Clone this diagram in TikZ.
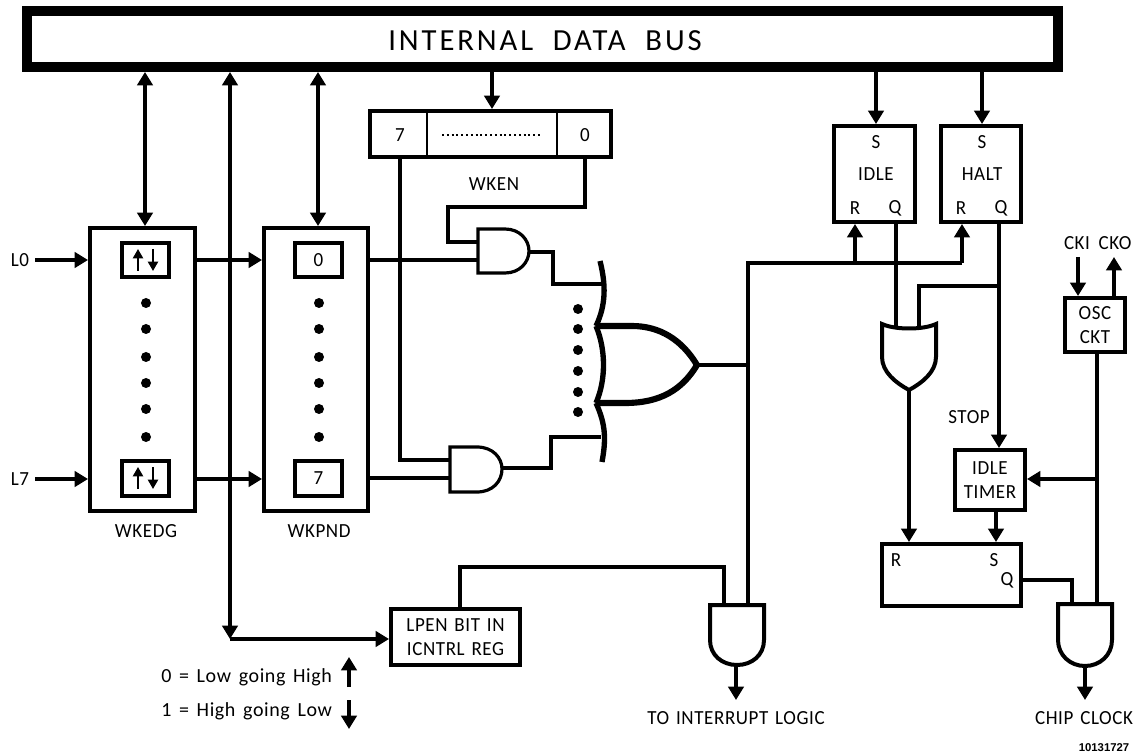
\documentclass[tikz,border=0pt]{standalone}
\usepackage{fontspec}
\setmainfont{Carlito}[LetterSpace=3,WordSpace=1.4,FakeStretch=0.95]
\newfontfamily\numfont{Liberation Sans}
\newfontfamily\busfont{Carlito}[LetterSpace=9.5,WordSpace=2]
\newfontfamily\legfont{Carlito}[LetterSpace=3,WordSpace=1.5]
\usetikzlibrary{arrows.meta}
\tikzset{
  x=0.75pt,y=-0.75pt,
  wire/.style={line width=2.3pt,line join=miter},
  arr/.style={line width=2.4pt,line join=miter,-{Triangle[length=10pt,width=11.5pt]}},
  arrs/.style={line width=2.4pt,{Triangle[length=10pt,width=11.5pt]}-{Triangle[length=10pt,width=11.5pt]}},
  mini/.style={line width=1.6pt,-{Triangle[length=7pt,width=7.5pt]}},
  boxthick/.style={draw,line width=3pt,inner sep=0pt,align=center,font=\lbl},
  gatethin/.style={line width=2.4pt,line join=miter,fill=white},
  gate/.style={line width=3pt,line join=miter,fill=white},
  lab/.style={inner sep=0pt,font=\lbl,align=center},
  dotm/.style={circle,fill=black,inner sep=0pt,minimum size=7.5pt},
}
\newcommand\lbl{\fontsize{15}{16.5}\selectfont}
\newcommand\pxbox[7][]{\node[boxthick,#1,minimum width={(#5-#3)*0.75pt},minimum height={(#6-#4)*0.75pt}] (#2) at ({(#3+#5)/2},{(#4+#6)/2}) {#7};}
\begin{document}
\begin{tikzpicture}
\useasboundingbox (0,0) rectangle (1135,755);
% bus
\pxbox[line width=7.5pt]{bus}{27}{11}{1058}{67}{}
\node[inner sep=0pt,font=\busfont\fontsize{23}{25}\selectfont] (bust) at (545,41) {INTERNAL DATA BUS};
% WKEDG / WKPND
\pxbox{wkedg}{90}{228}{195}{511}{}
\pxbox{wkpnd}{264}{228}{368}{511}{}
\pxbox{e0}{122}{243}{169}{277}{}
\pxbox{e7}{122}{461}{169}{496}{}
\pxbox{p0}{295}{243}{342}{277}{0}
\pxbox{p7}{295}{461}{342}{496}{7}
\foreach \b/\y in {e0/260,e7/478}{
  \coordinate (\b u1) at (138,\y+11); \coordinate (\b u2) at (138,\y-11);
  \coordinate (\b d1) at (153,\y-11); \coordinate (\b d2) at (153,\y+11);
  \draw[mini] (\b u1) -- (\b u2);
  \draw[mini] (\b d1) -- (\b d2);
}
\foreach \y [count=\i] in {303,329,357,383,409,437}{
  \node[dotm] (da\i) at (146,\y) {};
  \node[dotm] (db\i) at (319,\y) {};
}
\node[lab] (l0) at (20,260) {L0};
\node[lab] (l7) at (20,479) {L7};
\coordinate (l0e) at (88,260); \coordinate (l7e) at (88,479);
\coordinate (l0s) at (35,260); \coordinate (l7s) at (35,479);
\draw[arr] (l0s) -- (l0e);
\draw[arr] (l7s) -- (l7e);
\draw[arr] (197,260) coordinate (a0) -- (a0 -| wkpnd.west);
\draw[arr] (197,479) coordinate (a7) -- (a7 -| wkpnd.west);
\node[lab] (wkedgl) at (146,531) {WKEDG};
\node[lab] (wkpndl) at (319,531) {WKPND};
% bus to registers
\coordinate (be) at (145,226); \coordinate (bp) at (318,226);
\draw[arrs] (be |- bus.south) -- (be);
\draw[arrs] (bp |- bus.south) -- (bp);
% long vertical and LPEN
\pxbox{lpen}{391}{609}{520}{665}{LPEN BIT IN\\[2pt]ICNTRL REG}
\coordinate (vb) at (230,639);
\draw[arrs] (vb |- bus.south) -- (vb);
\draw[arr] (vb) -- (vb -| lpen.west);
% WKEN
\pxbox{wken}{370}{111}{611}{157}{}
\coordinate (w1t) at (427,111); \coordinate (w1b) at (427,157);
\coordinate (w2t) at (557,111); \coordinate (w2b) at (557,157);
\draw[line width=1.5pt] (w1t) -- (w1b);
\draw[line width=1.5pt] (w2t) -- (w2b);
\node[lab] (w7) at (400,135) {7};
\node[lab] (w0) at (585,135) {0};
\coordinate (wd1) at (442,135); \coordinate (wd2) at (542,135);
\draw[line width=1.5pt,dash pattern=on 1.5pt off 2.1pt] (wd1) -- (wd2);
\node[lab] (wkenl) at (494,184) {WKEN};
\coordinate (bw) at (492,109);
\draw[arr] (bw |- bus.south) -- (bw);
% AND gates, horizontal
\draw[gatethin] (478,229) -- (505,229) .. controls (520,229) and (529,240) .. (529,251) .. controls (529,262) and (520,273) .. (505,273) -- (478,273) -- cycle;
\draw[gatethin] (450,447) -- (477,447) .. controls (493,447) and (502,458) .. (502,469) .. controls (502,481) and (493,492) .. (477,492) -- (450,492) -- cycle;
\coordinate (a1i1) at (478,242); \coordinate (a1i2) at (478,260); \coordinate (a1o) at (529,252);
\coordinate (a2i1) at (450,460); \coordinate (a2i2) at (450,478); \coordinate (a2o) at (502,468);
\draw[wire] (p0.east -| wkpnd.east) -- (a1i2 |- p0.east);
\draw[wire] (wkpnd.east |- a2i2) -- (a2i2);
\draw[wire] (w0 |- wken.south) |- (448,207) |- (a1i1);
\draw[wire] (w7 |- wken.south) |- (a2i1);
% big OR
\coordinate (o1) at (602,284); \coordinate (o2) at (601,437);
\draw[wire] (a1o) -| (553,284) -- (o1);
\draw[wire] (a2o) -| (551,437) -- (o2);
\draw[line width=4pt] (600,261) .. controls (606,285) and (606,305) .. (596,326);
\draw[line width=4pt] (596,326) .. controls (606,350) and (606,380) .. (596,403);
\draw[line width=4pt] (596,403) .. controls (606,425) and (606,440) .. (602,462);
\draw[line width=4.6pt,line join=miter] (596,326) -- (632,326) .. controls (660,326) and (682,340) .. (697,365) .. controls (682,390) and (660,403) .. (625,403) -- (596,403);
\foreach \y [count=\i] in {309,329,350,371,392,412}{ \node[dotm] (dc\i) at (578,\y) {}; }
% IDLE / HALT
\pxbox{idle}{834}{126}{915}{222}{}
\pxbox{halt}{941}{126}{1021}{222}{}
\node[lab] (is) at (876,142) {S};
\node[lab] (il) at (876,174) {IDLE};
\node[lab] (ir) at (855,208) {R};
\node[lab] (iq) at (895,208) {Q};
\node[lab] (hs) at (982,142) {S};
\node[lab] (hl) at (982,174) {HALT};
\node[lab] (hr) at (961,208) {R};
\node[lab] (hq) at (1001,208) {Q};
\coordinate (bi) at (876,124); \coordinate (bh) at (982,124);
\draw[arr] (bi |- bus.south) -- (bi);
\draw[arr] (bh |- bus.south) -- (bh);
% interrupt AND
\draw[gate] (710,605) -- (764,605) -- (764,640) .. controls (764,655) and (752,665) .. (737,665) .. controls (722,665) and (710,655) .. (710,640) -- cycle;
\coordinate (ai1) at (724,605); \coordinate (ai2) at (748,605); \coordinate (aio) at (736,665); \coordinate (aie) at (736,700);
\coordinate (lpo) at (460,607);
\draw[wire] (lpo) |- (ai1 |- 0,567) -- (ai1);
% OR out, reset rail
\coordinate (orout) at (698,365); \coordinate (rail) at (748,365); \coordinate (railt) at (748,263);
\coordinate (ri) at (855,224); \coordinate (rh) at (962,224);
\draw[wire] (orout) -- (rail);
\draw[wire] (ai2) -- (railt) -- (rh |- railt) ;
\draw[arr] (ri |- railt) -- (ri);
\draw[arr] (rh |- railt) -- (rh);
\draw[arr] (aio) -- (aie);
\node[lab] (toint) at (736,718) {TO INTERRUPT LOGIC};
% small OR
\draw[gate] (882,324) .. controls (895,330) and (923,330) .. (936,324) -- (936,357) .. controls (936,372) and (922,383) .. (909,390) .. controls (896,383) and (882,372) .. (882,357) -- cycle;
\coordinate (oi1) at (896,328); \coordinate (oi2) at (919,327); \coordinate (oo) at (909,390);
\coordinate (qi) at (896,224); \coordinate (qh) at (999,224); \coordinate (qj) at (999,286);
\draw[wire] (qi) -- (oi1);
\draw[wire] (qj) -| (oi2);
% idle timer
\pxbox{timer}{955}{450}{1025}{510}{IDLE\\[2pt]TIMER}
\node[lab] (stop) at (969,417) {STOP};
\draw[arr] (qh) -- (qh |- timer.north);
% latch
\pxbox{latch}{882}{544}{1021}{606}{}
\node[lab] (lr) at (896,560) {R};
\node[lab] (ls) at (994,560) {S};
\node[lab] (lq) at (1007,580) {Q};
\draw[arr] (oo) -- (oo |- latch.north);
\coordinate (ts) at (996,512);
\draw[arr] (ts) -- (ts |- latch.north);
% OSC
\pxbox{osc}{1065}{298}{1125}{352}{OSC\\[2pt]CKT}
\coordinate (cki) at (1078,257); \coordinate (cko) at (1114,257);
\node[lab] (ckit) at (1077,243) {CKI};
\node[lab] (ckot) at (1115,243) {CKO};
\draw[arr] (cki) -- (cki |- osc.north);
\draw[arr] (cko |- osc.north) -- (cko);
% chip clock AND
\draw[gate] (1058,604) -- (1112,604) -- (1112,640) .. controls (1112,655) and (1100,666) .. (1085,666) .. controls (1070,666) and (1058,655) .. (1058,640) -- cycle;
\coordinate (ci1) at (1072,604); \coordinate (ci2) at (1097,604); \coordinate (coo) at (1085,666); \coordinate (coe) at (1085,700);
\coordinate (clk) at (1097,354); \coordinate (clkb) at (1097,479);
\draw[wire] (clk) -- (ci2);
\draw[arr] (clkb) -- (clkb -| timer.east);
\draw[wire] (latch.east |- 0,580) -| (ci1);
\draw[arr] (coo) -- (coe);
\node[lab] (chip) at (1084,718) {CHIP CLOCK};
\node[inner sep=0pt,font=\numfont\fontsize{8.5}{10}\selectfont\bfseries] (code) at (1104,748) {10131727};
% legend
\node[lab,anchor=west,font=\legfont\lbl] (leg0) at (161,677) {0 = Low going High};
\node[lab,anchor=west,font=\legfont\lbl] (leg1) at (161,711) {1 = High going Low};
\coordinate (lu1) at (349,687); \coordinate (lu2) at (349,657);
\coordinate (ld1) at (349,700); \coordinate (ld2) at (349,729);
\draw[arr] (lu1) -- (lu2);
\draw[arr] (ld1) -- (ld2);
\end{tikzpicture}
\end{document}
